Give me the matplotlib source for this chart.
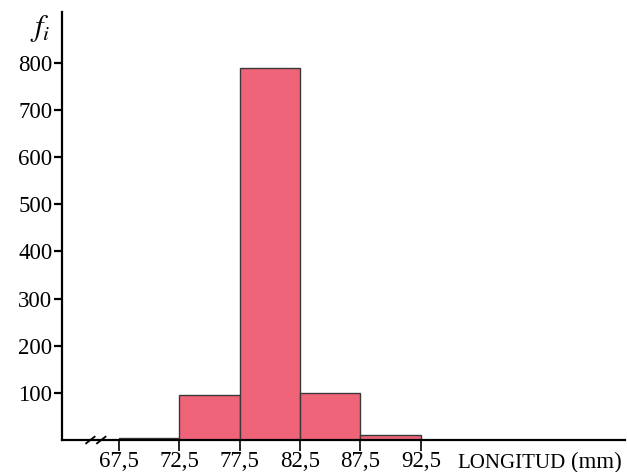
import numpy as np
import matplotlib
matplotlib.use("Agg")
import matplotlib.pyplot as plt

plt.rcParams['font.family'] = ['Liberation Serif', 'DejaVu Serif']
plt.rcParams['mathtext.fontset'] = 'stix'

# class limits (mm) and frequencies
edges = [67.5, 72.5, 77.5, 82.5, 87.5, 92.5]
freqs = [4, 95, 790, 99, 10]
xtick_labels = ["67,5", "72,5", "77,5", "82,5", "87,5", "92,5"]
yticks = [100, 200, 300, 400, 500, 600, 700, 800]

W, H = 627, 472
fig = plt.figure(figsize=(W / 100, H / 100), dpi=100)
ax = fig.add_axes([62/W, 32/H, 563/W, 428/H])

widths = np.diff(edges)
ax.bar(edges[:-1], freqs, width=widths, align='edge',
       color='#EF6479', edgecolor='#3a3a3a', linewidth=1.0)

ax.set_xlim(62.8, 109.4)
ax.set_ylim(0, 908)

ax.spines['top'].set_visible(False)
ax.spines['right'].set_visible(False)
ax.spines['left'].set_linewidth(1.6)
ax.spines['bottom'].set_linewidth(1.6)

ax.set_xticks(edges)
ax.set_xticklabels(xtick_labels, fontsize=16.5)
ax.set_yticks(yticks)
ax.set_yticklabels([str(v) for v in yticks], fontsize=16.5)
ax.tick_params(axis='y', direction='out', length=6, width=1.6, pad=1)
ax.tick_params(axis='x', direction='out', length=8, width=1.2, pad=0)

# axis break mark
for dx in (0, 0.9):
    ax.plot([64.8 + dx, 65.5 + dx], [-7, 7], color='black', lw=1.3,
            clip_on=False)

fig.text(40/W, 1 - 28/H, r'$f_i$', fontsize=22, ha='center', va='center')

fig.text(457/W, 4/H, 'LONGITUD', fontsize=15, ha='left', va='baseline')
fig.text(571/W, 4/H, '(mm)', fontsize=16.5, ha='left', va='baseline')

fig.savefig('out.png', dpi=100)
